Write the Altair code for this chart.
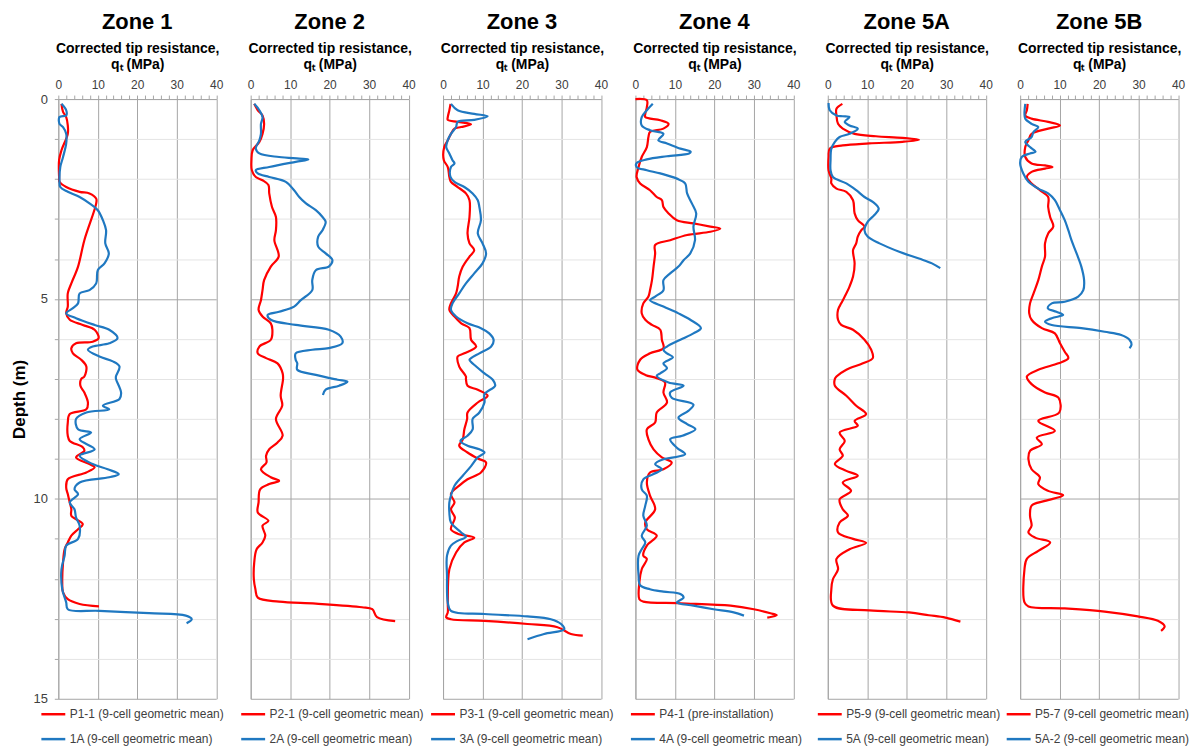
import altair as alt
import pandas as pd

FONT = "Liberation Sans, Arial, sans-serif"
RED = "#FF0000"
BLUE = "#1F78C1"

zone_names = ["Zone 1", "Zone 2", "Zone 3", "Zone 4", "Zone 5A", "Zone 5B"]
red_labels = ["P1-1 (9-cell geometric mean)", "P2-1 (9-cell geometric mean)",
              "P3-1 (9-cell geometric mean)", "P4-1 (pre-installation)",
              "P5-9 (9-cell geometric mean)", "P5-7 (9-cell geometric mean)"]
blue_labels = ["1A (9-cell geometric mean)", "2A (9-cell geometric mean)",
               "3A (9-cell geometric mean)", "4A (9-cell geometric mean)",
               "5A (9-cell geometric mean)", "5A-2 (9-cell geometric mean)"]

# ---- Zone 1 ----
p1_d = [0.12, 0.32, 0.45, 0.66, 0.87, 1.28, 1.53, 1.95, 2.07, 2.2, 2.32, 2.36, 2.49, 2.61, 3.53, 4.19, 4.61, 4.86,
        5.19, 5.36, 5.52, 5.65, 5.77, 5.98, 6.07, 6.11, 6.23, 6.36, 6.52, 6.69, 6.94, 7.0, 7.17, 7.34, 7.59, 7.76,
        7.88, 8.09, 8.42, 8.55, 8.71, 8.8, 8.96, 9.13, 9.21, 9.34, 9.51, 9.72, 9.88, 10.09, 10.26, 10.42, 10.63,
        10.76, 10.92, 11.09, 11.26, 11.59, 12.09, 12.34, 12.51, 12.63, 12.69]
p1_q = [0.8, 1.2, 2.0, 2.4, 2.4, 0.8, 0.2, 0.2, 0.3, 2.0, 5.4, 7.9, 9.6, 9.6, 6.6, 5.0, 3.3, 2.4,
        2.4, 2.0, 2.9, 6.2, 9.2, 10.2, 8.7, 4.5, 3.3, 3.7, 5.8, 7.1, 6.6, 5.8, 5.6, 6.6, 7.5, 7.1,
        2.9, 2.4, 2.4, 2.9, 6.2, 6.6, 4.5, 7.9, 9.2, 7.1, 2.4, 2.0, 2.4, 2.9, 3.3, 3.3, 6.2,
        5.0, 3.3, 2.4, 1.6, 1.2, 1.0, 1.2, 2.4, 5.4, 10.3]
b1_d = [0.12, 0.28, 0.41, 0.45, 0.62, 0.7, 0.87, 1.11, 1.45, 1.7, 2.03, 2.2, 2.32, 2.45, 2.61, 2.78, 3.03, 3.28,
        3.61, 3.86, 4.11, 4.28, 4.61, 4.78, 4.86, 5.11, 5.23, 5.36, 5.48, 5.65, 5.77, 5.98, 6.11, 6.19, 6.27,
        6.44, 6.56, 6.69, 6.94, 7.0, 7.34, 7.5, 7.67, 7.76, 7.84, 8.0, 8.26, 8.34, 8.51, 8.76, 8.92, 9.13,
        9.26, 9.38, 9.46, 9.59, 9.76, 9.88, 10.09, 10.26, 10.47, 10.67, 11.0, 11.17, 11.42, 11.76, 12.26,
        12.59, 12.76, 12.8, 12.86, 12.92, 13.01, 13.11]
b1_q = [0.8, 2.0, 2.0, 0.3, 0.3, 1.2, 2.0, 2.0, 1.2, 0.5, 0.3, 0.5, 2.4, 5.4, 7.9, 10.0, 11.3, 12.1,
        11.9, 12.8, 11.7, 10.0, 9.6, 7.9, 5.4, 5.0, 3.7, 2.0, 4.5, 9.2, 12.9, 15.0, 12.9, 8.7, 7.5,
        10.4, 13.8, 15.5, 14.6, 14.6, 15.9, 15.5, 11.3, 12.9, 7.1, 4.5, 5.0, 8.3, 5.4, 9.2, 5.4, 8.7,
        12.5, 15.3, 12.9, 5.4, 4.1, 5.0, 2.9, 4.1, 4.5, 5.4, 5.0, 2.0, 1.6, 0.8, 1.0,
        2.0, 2.4, 10.4, 23.0, 32.3, 33.8, 32.5]

# ---- Zone 2 ----
p2_d = [0.12, 0.28, 0.41, 0.62, 0.87, 1.07, 1.28, 1.53, 1.78, 1.95, 2.03, 2.15, 2.36, 2.7, 2.95, 3.28, 3.53, 3.94,
        4.19, 4.53, 4.78, 5.03, 5.27, 5.44, 5.61, 5.77, 6.02, 6.19, 6.36, 6.48, 6.61, 6.86, 7.0, 7.42, 7.67, 8.0,
        8.42, 8.59, 8.76, 8.92, 9.09, 9.26, 9.46, 9.55, 9.63, 9.76, 10.09, 10.34, 10.55, 10.67, 10.92, 11.09,
        11.26, 11.59, 12.01, 12.26, 12.47, 12.57, 12.62, 12.71, 12.76, 12.96, 13.06]
p2_q = [0.9, 1.8, 3.0, 3.4, 3.0, 2.2, 0.5, 0.2, 0.3, 1.3, 3.0, 4.5, 4.7, 5.4, 6.4, 6.4, 6.0, 7.1,
        5.1, 3.4, 3.0, 2.6, 2.0, 3.0, 5.1, 5.5, 5.1, 2.2, 1.8, 3.9, 6.8, 8.1, 8.2, 7.6, 8.0, 6.4,
        8.1, 6.8, 4.7, 3.9, 4.0, 2.6, 5.1, 7.2, 4.7, 2.4, 2.0, 1.8, 4.5, 3.0, 3.7, 3.0,
        1.5, 0.9, 0.8, 1.2, 1.8, 7.2, 16.5, 28.2, 30.8, 32.0, 36.6]
b2_d = [0.12, 0.28, 0.45, 0.62, 0.87, 1.03, 1.24, 1.36, 1.45, 1.49, 1.51, 1.57, 1.7, 1.78, 1.86, 1.95, 2.07, 2.28,
        2.45, 2.61, 2.78, 2.95, 3.07, 3.28, 3.44, 3.69, 3.86, 4.03, 4.19, 4.28, 4.53, 4.78, 5.03, 5.19, 5.32,
        5.4, 5.52, 5.65, 5.77, 5.94, 6.11, 6.23, 6.27, 6.36, 6.52, 6.61, 6.77, 6.9, 7.02, 7.07, 7.17, 7.27, 7.4]
b2_q = [0.9, 2.2, 3.0, 2.6, 2.6, 2.2, 1.3, 2.2, 7.2, 12.3, 14.6, 11.4, 4.7, 1.3, 1.8, 4.7, 8.9, 11.0,
        12.3, 14.0, 16.5, 18.2, 19.0, 18.2, 17.1, 17.1, 19.0, 20.7, 19.8, 16.5, 15.6, 15.6, 12.7, 11.0, 7.2,
        4.3, 5.1, 11.4, 19.8, 22.8, 23.2, 19.8, 15.6, 11.4, 11.4, 11.8, 11.8, 16.5, 22.0, 24.5, 22.4, 19.0, 18.3]

# ---- Zone 3 ----
p3_d = [0.12, 0.28, 0.45, 0.52, 0.57, 0.63, 0.7, 0.74, 0.87, 1.03, 1.2, 1.53, 1.7, 1.95, 2.07, 2.2, 2.36, 2.53,
        2.95, 3.36, 3.61, 3.78, 3.94, 4.19, 4.44, 4.69, 4.86, 5.11, 5.27, 5.44, 5.61, 5.73, 6.02, 6.19, 6.36,
        6.44, 6.69, 6.94, 7.0, 7.17, 7.27, 7.42, 7.59, 7.84, 8.0, 8.26, 8.51, 8.67, 8.84, 8.99, 9.09, 9.34,
        9.51, 9.67, 9.88, 10.09, 10.26, 10.47, 10.76, 10.87, 10.97, 11.09, 11.34, 11.76, 12.59, 12.84, 12.96,
        13.01, 13.05, 13.13, 13.21, 13.38, 13.42]
p3_q = [1.9, 1.6, 1.2, 1.2, 3.7, 7.1, 4.6, 2.9, 2.0, 1.2, 0.3, 0.2, 1.2, 1.6, 2.0, 3.7, 5.8, 6.7,
        6.7, 6.2, 6.7, 7.9, 6.7, 5.0, 4.1, 3.7, 3.3, 2.0, 1.6, 2.9, 4.6, 6.7, 7.1, 8.4, 5.4,
        3.7, 4.1, 5.8, 5.8, 6.2, 8.8, 11.3, 8.8, 6.2, 6.1, 5.4, 5.0, 4.1, 6.2, 8.8, 10.9, 9.6, 6.2,
        4.1, 2.0, 2.9, 2.0, 3.0, 2.0, 3.7, 7.9, 5.4, 3.3, 1.6, 1.2, 1.2, 0.8, 2.0,
        10.5, 21.4, 29.0, 32.4, 35.4, 35.6]
b3_d = [0.12, 0.28, 0.37, 0.43, 0.52, 0.57, 0.7, 0.87, 1.03, 1.2, 1.36, 1.53, 1.61, 1.7, 1.95, 2.07, 2.2, 2.36,
        2.53, 2.7, 3.03, 3.36, 3.61, 3.86, 4.11, 4.36, 4.61, 4.86, 5.11, 5.27, 5.44, 5.61, 5.73, 5.86, 6.02,
        6.19, 6.36, 6.48, 6.52, 6.69, 6.86, 7.02, 7.17, 7.38, 7.59, 7.84, 8.0, 8.26, 8.42, 8.55, 8.67, 8.76,
        8.84, 8.96, 9.18, 9.42, 9.67, 9.92, 10.09, 10.34, 10.59, 10.84, 10.95, 11.05, 11.17, 11.42, 11.92,
        12.59, 12.8, 12.88, 12.94, 13.01, 13.13, 13.26, 13.38, 13.51]
b3_q = [2.0, 3.7, 7.9, 11.3, 7.9, 3.7, 3.3, 2.0, 1.2, 0.8, 1.6, 2.4, 2.9, 2.0, 1.9, 2.9, 5.4, 7.5,
        8.8, 9.2, 9.6, 8.8, 10.0, 10.9, 10.0, 7.9, 5.8, 4.1, 2.4, 2.0, 3.3, 6.2, 9.6, 11.7, 12.8,
        12.2, 9.2, 7.1, 6.7, 8.4, 10.5, 12.6, 13.2, 10.5, 10.5, 9.2, 7.5, 7.5, 6.2, 4.4, 6.2, 9.2,
        10.5, 8.8, 7.1, 5.0, 2.9, 2.0, 1.6, 1.6, 2.0, 4.6, 5.8, 3.7, 2.0, 1.0, 1.0,
        1.2, 2.0, 10.5, 21.4, 27.3, 29.9, 30.7, 25.6, 21.4]

# ---- Zone 4 ----
p4_d = [0.0, 0.03, 0.2, 0.37, 0.45, 0.53, 0.62, 0.74, 0.82, 0.95, 1.2, 1.45, 1.7, 1.95, 2.11, 2.28, 2.45, 2.53,
        2.7, 2.86, 3.03, 3.11, 3.19, 3.24, 3.32, 3.4, 3.53, 3.65, 3.86, 4.19, 4.53, 4.78, 4.94, 5.11, 5.36,
        5.52, 5.65, 5.77, 6.02, 6.23, 6.36, 6.52, 6.77, 6.9, 6.98, 7.09, 7.34, 7.59, 7.84, 8.09, 8.26, 8.51,
        8.76, 8.96, 9.09, 9.26, 9.34, 9.59, 9.92, 10.26, 10.59, 10.76, 10.92, 11.17, 11.42, 11.5, 11.76,
        12.09, 12.51, 12.57, 12.61, 12.67, 12.76, 12.86, 12.91, 12.97]
p4_q = [0.0, 2.9, 2.9, 2.5, 2.5, 6.3, 8.4, 7.1, 3.7, 3.3, 2.9, 1.6, 0.8, 0.3, 1.2, 3.7, 5.4, 6.7,
        7.1, 8.4, 10.5, 14.7, 19.0, 21.5, 19.0, 13.1, 8.8, 5.0, 5.0, 4.6, 4.2, 3.7, 3.3, 2.0, 1.6,
        2.5, 4.2, 6.3, 6.7, 7.1, 3.7, 1.2, 0.5, 2.5, 5.4, 7.5, 7.1, 8.0, 5.4, 5.0, 2.9, 3.3,
        4.6, 6.7, 9.2, 7.1, 3.7, 2.9, 3.7, 5.0, 2.5, 2.9, 5.4, 2.9, 2.0, 2.9, 1.6,
        1.0, 1.0, 2.0, 11.4, 24.1, 30.0, 34.2, 35.8, 33.4]
b4_d = [0.12, 0.28, 0.45, 0.66, 0.78, 0.87, 1.03, 1.11, 1.24, 1.32, 1.36, 1.43, 1.51, 1.6, 1.7, 1.78, 1.86, 1.99,
        2.11, 2.36, 2.61, 2.86, 3.19, 3.53, 3.86, 4.03, 4.19, 4.36, 4.53, 4.78, 4.94, 5.03, 5.19, 5.36, 5.52,
        5.73, 5.86, 6.02, 6.19, 6.27, 6.36, 6.46, 6.61, 6.73, 6.86, 6.92, 7.09, 7.17, 7.34, 7.47, 7.64, 7.8,
        7.97, 8.13, 8.26, 8.42, 8.51, 8.72, 8.88, 8.94, 9.01, 9.13, 9.26, 9.38, 9.51, 9.76, 9.92, 10.17,
        10.42, 10.67, 10.92, 11.09, 11.26, 11.42, 11.92, 12.16, 12.26, 12.32, 12.38, 12.47, 12.59, 12.67,
        12.76, 12.84, 12.92]
b4_q = [4.4, 2.9, 1.6, 1.6, 3.7, 7.1, 5.8, 8.0, 11.4, 14.0, 13.6, 8.0, 2.9, 0.3, 0.3, 2.9, 6.3, 10.5,
        12.6, 13.1, 14.3, 15.4, 14.7, 15.1, 13.9, 12.2, 10.9, 8.8, 7.1, 7.1, 5.0, 3.7, 7.1, 10.9, 13.9,
        16.6, 14.7, 11.4, 8.0, 7.1, 8.0, 9.5, 7.1, 8.0, 6.3, 5.4, 8.4, 12.2, 8.8, 9.2, 14.7, 13.4,
        10.9, 13.1, 15.2, 11.9, 8.8, 10.5, 12.6, 10.9, 7.1, 5.0, 6.7, 4.6, 2.0, 1.6, 2.9, 2.5,
        2.0, 2.9, 1.6, 2.5, 1.6, 0.8, 0.8, 1.2, 3.7, 7.1, 11.4, 12.2, 10.5, 14.7,
        19.8, 24.9, 27.5]

# ---- Zone 5A ----
p5_d = [0.12, 0.24, 0.41, 0.62, 0.74, 0.87, 0.93, 0.97, 1.02, 1.07, 1.11, 1.16, 1.24, 1.45, 1.78, 1.99, 2.11, 2.24,
        2.32, 2.53, 2.86, 3.03, 3.19, 3.28, 3.44, 3.61, 3.78, 4.11, 4.44, 4.69, 4.94, 5.11, 5.27, 5.52, 5.65,
        5.77, 6.02, 6.27, 6.48, 6.61, 6.77, 6.94, 7.0, 7.17, 7.42, 7.67, 7.88, 8.05, 8.17, 8.34, 8.55, 8.76,
        8.92, 9.13, 9.3, 9.42, 9.59, 9.8, 10.01, 10.26, 10.42, 10.59, 10.84, 11.0, 11.1, 11.26, 11.5, 11.76,
        12.01, 12.26, 12.67, 12.79, 12.84, 12.91, 12.97, 13.07]
p5_q = [3.7, 2.2, 2.2, 2.6, 3.8, 6.8, 12.2, 18.9, 23.1, 18.9, 10.5, 3.8, 0.5, 0.2, 0.2, 0.9, 0.9, 2.2,
        4.7, 6.4, 6.8, 7.6, 9.3, 8.5, 7.6, 7.2, 6.4, 6.8, 6.4, 5.5, 4.3, 3.4, 2.6, 2.6, 3.4,
        6.4, 9.3, 11.0, 11.4, 8.9, 4.7, 2.2, 1.8, 1.8, 4.7, 7.2, 9.7, 6.8, 7.6, 3.0, 4.3, 3.0,
        3.8, 1.8, 4.7, 7.6, 3.8, 5.9, 3.0, 3.8, 5.1, 3.0, 2.6, 6.4, 9.7, 5.5, 2.2, 2.6,
        1.3, 0.9, 1.3, 10.5, 20.6, 25.6, 29.8, 33.6]
b5_d = [0.1, 0.28, 0.41, 0.43, 0.45, 0.57, 0.66, 0.74, 0.87, 0.95, 1.07, 1.24, 1.53, 1.78, 1.95, 2.11, 2.28, 2.45,
        2.57, 2.74, 2.9, 3.07, 3.28, 3.44, 3.61, 3.82, 3.99, 4.11, 4.23]
b5_q = [0.2, 0.5, 2.2, 3.8, 5.5, 4.3, 5.5, 7.6, 5.5, 3.0, 1.8, 0.9, 0.7, 0.7, 1.3, 4.7, 7.2, 9.3,
        11.4, 12.9, 11.8, 10.1, 9.3, 10.1, 13.1, 18.1, 23.1, 26.4, 28.5]

# ---- Zone 5B ----
p6_d = [0.12, 0.28, 0.41, 0.49, 0.57, 0.66, 0.74, 0.87, 1.03, 1.2, 1.45, 1.61, 1.66, 1.7, 1.74, 1.82, 1.95, 2.11,
        2.28, 2.45, 2.7, 2.95, 3.19, 3.36, 3.61, 3.94, 4.19, 4.53, 4.86, 5.11, 5.36, 5.52, 5.73, 5.86, 6.11,
        6.32, 6.48, 6.61, 6.77, 6.94, 7.13, 7.34, 7.47, 7.84, 8.05, 8.3, 8.47, 8.63, 8.8, 9.01, 9.26, 9.46,
        9.63, 9.8, 9.91, 10.05, 10.17, 10.42, 10.67, 10.84, 10.97, 11.09, 11.3, 11.5, 11.76, 12.59, 12.69,
        12.74, 12.82, 12.94, 13.05, 13.19, 13.3]
p6_q = [1.9, 1.7, 1.3, 2.9, 7.1, 10.1, 7.1, 2.9, 2.1, 1.3, 1.3, 2.9, 6.3, 8.2, 6.3, 2.9, 1.7, 2.9,
        5.0, 7.1, 7.1, 7.6, 8.4, 7.1, 6.3, 6.3, 5.5, 4.6, 3.4, 2.5, 2.3, 2.9, 5.5, 8.8, 10.1,
        11.3, 12.2, 9.7, 4.6, 1.7, 2.9, 6.3, 9.7, 9.9, 4.6, 8.8, 4.2, 5.5, 2.5, 2.1, 2.9, 5.0,
        4.6, 7.1, 10.9, 6.3, 2.9, 2.5, 2.9, 2.1, 3.8, 7.6, 4.6, 1.7, 1.1, 1.1, 2.1,
        11.3, 21.4, 29.8, 34.9, 36.6, 35.7]
b6_d = [0.12, 0.37, 0.49, 0.62, 0.7, 0.82, 0.95, 1.07, 1.2, 1.32, 1.36, 1.45, 1.61, 1.86, 2.07, 2.24, 2.36, 2.53,
        2.78, 3.03, 3.28, 3.53, 3.86, 4.19, 4.53, 4.78, 4.94, 5.07, 5.11, 5.23, 5.32, 5.4, 5.48, 5.57, 5.65,
        5.73, 5.82, 5.9, 6.02, 6.15, 6.23]
b6_q = [1.3, 1.1, 1.3, 2.9, 4.6, 3.4, 2.9, 1.3, 2.5, 3.9, 2.5, 0.4, 0.0, 0.8, 2.1, 4.6, 7.1, 8.8,
        10.1, 11.3, 12.2, 13.0, 14.3, 15.5, 16.2, 16.0, 14.7, 11.3, 8.0, 7.0, 9.2, 10.9, 8.0, 6.3, 8.0,
        15.5, 21.4, 25.6, 27.7, 28.2, 27.7]

reds = [(p1_d, p1_q), (p2_d, p2_q), (p3_d, p3_q), (p4_d, p4_q), (p5_d, p5_q), (p6_d, p6_q)]
blues = [(b1_d, b1_q), (b2_d, b2_q), (b3_d, b3_q), (b4_d, b4_q), (b5_d, b5_q), (b6_d, b6_q)]
legend_x = [-18.5, -11, -13.5, -6, -11.5, -15]

PW = 158.5
PH = 602


def panel(k):
    rows = []
    for lab, (ds, qs) in ((red_labels[k], reds[k]), (blue_labels[k], blues[k])):
        for i, (d, q) in enumerate(zip(ds, qs)):
            rows.append({"series": lab, "depth": d, "qt": q, "i": i})
    df = pd.DataFrame(rows)
    first = k == 0
    grid_y = {"condition": {"test": "datum.value % 5 === 0", "value": "#A6A6A6"}, "value": "#E4E4E4"}
    grid_x = {"condition": {"test": "datum.value % 10 === 0", "value": "#A6A6A6"}, "value": "rgba(0,0,0,0)"}
    if first:
        yaxis = alt.Axis(values=list(range(16)), grid=True, gridColor=grid_y, gridWidth=1,
                         labelExpr="datum.value % 5 === 0 ? datum.label : ''", labelOverlap=False,
                         labelFlush=False,
                         labelFontSize=13, labelFont=FONT, labelColor="#404040", labelPadding=7,
                         tickSize=4, tickColor="#A6A6A6", domainColor="#A6A6A6",
                         title="Depth (m)", titleFont=FONT, titleFontSize=17, titleFontWeight="bold",
                         titleColor="#000000", titlePadding=4)
    else:
        yaxis = alt.Axis(values=list(range(16)), grid=True, gridColor=grid_y, gridWidth=1,
                         labels=False, ticks=False, domainColor="#A6A6A6", title=None)
    xaxis = alt.Axis(orient="top", values=list(range(0, 41, 2)), grid=True, gridColor=grid_x,
                     labelExpr="datum.value % 10 === 0 ? datum.label : ''", labelOverlap=False,
                     labelFlush=False,
                     labelFontSize=12, labelFont=FONT, labelColor="#404040", labelPadding=4,
                     tickSize=4, tickColor="#A6A6A6", domainColor="#A6A6A6",
                     title=["Corrected tip resistance,", "q\u209c (MPa)"], titleFont=FONT,
                     titleFontSize=14, titleFontWeight="bold", titleColor="#000000",
                     titleLineHeight=16, titlePadding=7)
    chart = alt.Chart(df).mark_line(strokeWidth=2.2, strokeJoin="round", interpolate="catmull-rom").encode(
        x=alt.X("qt:Q", scale=alt.Scale(domain=[0, 40], nice=False), axis=xaxis),
        y=alt.Y("depth:Q", scale=alt.Scale(domain=[0, 15], reverse=True, nice=False), axis=yaxis),
        color=alt.Color("series:N",
                        scale=alt.Scale(domain=[red_labels[k], blue_labels[k]], range=[RED, BLUE]),
                        legend=alt.Legend(orient="none", legendX=legend_x[k], legendY=604, title=None,
                                          symbolType="stroke", symbolSize=576, symbolStrokeWidth=2.5,
                                          labelFont=FONT, labelFontSize=12, labelColor="#404040",
                                          labelLimit=300, labelOffset=3, rowPadding=5)),
        detail="series:N",
        order="i:Q",
    ).properties(
        width=PW, height=PH,
        title=alt.Title(zone_names[k], font=FONT, fontSize=22, fontWeight="bold", color="#000000",
                        anchor="middle", frame="group", offset=7),
    )
    return chart


chart = alt.hconcat(*[panel(k) for k in range(6)], spacing=34.1, bounds="flush").resolve_scale(
    color="independent"
).configure_view(stroke=None).properties(
    padding={"left": 2.5, "top": 2, "right": 0, "bottom": 0}
)

chart.save("out.html", embed_options={"renderer": "svg", "actions": False})
